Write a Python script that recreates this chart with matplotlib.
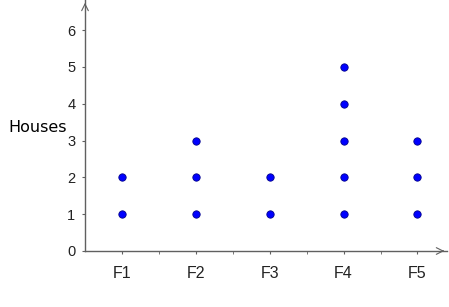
import matplotlib
matplotlib.use("Agg")
import matplotlib.pyplot as plt

# dot plot data: number of houses per category
categories = ["F1", "F2", "F3", "F4", "F5"]
counts = [2, 3, 2, 5, 3]
y_ticks = [0, 1, 2, 3, 4, 5, 6]

fig = plt.figure(figsize=(4.49, 3.07), dpi=100)
ax = fig.add_axes([85 / 449, 56 / 307, 362 / 449, 251 / 307])

xs, ys = [], []
for i, n in enumerate(counts):
    for k in range(1, n + 1):
        xs.append(i + 1)
        ys.append(k)
ax.scatter(xs, ys, s=28, color="#0000ff", edgecolors="#00008b", linewidths=0.6, zorder=3, clip_on=False)

ax.set_xlim(0.5, 5.4)
ax.set_ylim(0, 6.82)
axis_col = "#606060"
for s in ["top", "right"]:
    ax.spines[s].set_visible(False)
for s in ["left", "bottom"]:
    ax.spines[s].set_color(axis_col)
    ax.spines[s].set_linewidth(1.0)

# open arrow heads at the axis ends
ax.annotate("", xy=(5.4, 0), xytext=(5.3, 0), annotation_clip=False,
            arrowprops=dict(arrowstyle="->", color=axis_col, lw=0.8, mutation_scale=12))
ax.annotate("", xy=(0.5, 6.82), xytext=(0.5, 6.6), annotation_clip=False,
            arrowprops=dict(arrowstyle="->", color=axis_col, lw=0.8, mutation_scale=12))

ax.set_xticks(range(1, len(categories) + 1))
ax.set_xticklabels(categories, family="Liberation Sans")
ax.set_xticks([1.5, 2.5, 3.5, 4.5], minor=True)
ax.set_yticks(y_ticks)
ax.set_yticklabels([str(v) for v in y_ticks], family="Liberation Sans")
ax.tick_params(axis="x", which="both", length=2, color=axis_col, pad=9, labelsize=11.5, labelcolor="#222222")
ax.tick_params(axis="y", length=2, color=axis_col, pad=5, labelsize=10.5, labelcolor="#222222")

fig.text(8 / 449, 1 - 128 / 307, "Houses", fontsize=11.5, va="center", ha="left")

fig.savefig("out.png", dpi=100)
